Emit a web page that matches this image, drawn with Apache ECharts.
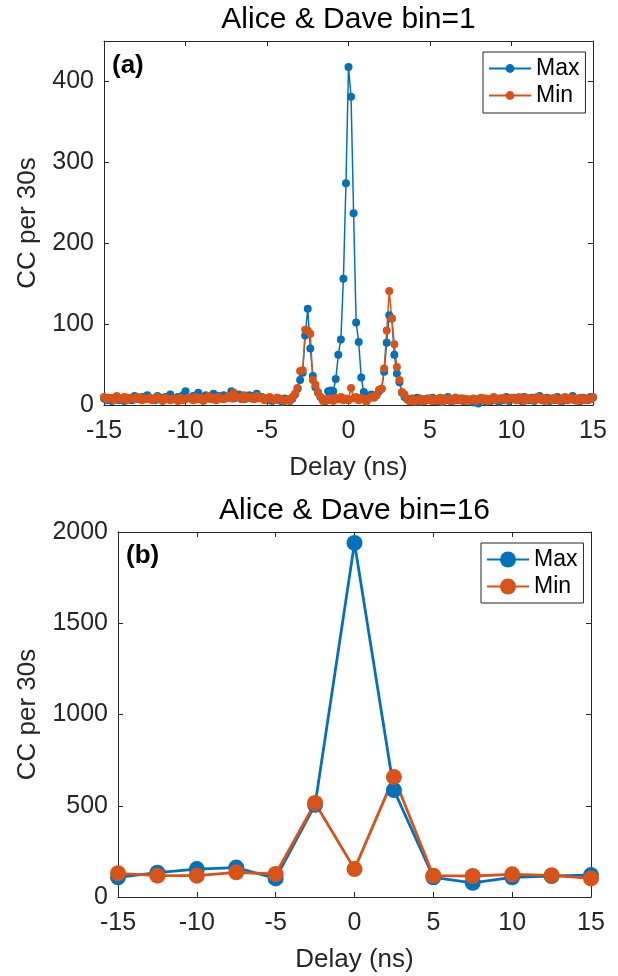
<!DOCTYPE html>
<html><head><meta charset="utf-8">
<script src="https://cdn.jsdelivr.net/npm/echarts@6/dist/echarts.min.js"></script>
<style>html,body{margin:0;padding:0;background:#fff}#c{width:618px;height:976px}</style>
</head><body><div id="c"></div>
<script>
// ---- data ----
const binWidthNs = 0.15625;           // bin=1 width (ns)
const delayStartNs = -15;
const maxBin1 = [
  8,6,9,5,7,10,6,8,5,9,7,6,11,8,7,10,
  9,12,7,8,6,11,9,7,10,8,13,9,7,10,8,12,
  17,9,8,11,7,15,10,9,12,8,10,14,9,11,8,12,
  10,9,17,8,11,13,9,7,10,12,8,11,14,9,10,8,
  6,8,5,7,9,6,4,8,7,5,8,13,20,31,40,86,
  119,70,36,22,15,10,7,5,17,18,17,32,62,81,156,274,
  418,381,237,102,78,34,16,12,10,13,11,12,17,20,41,77,
  111,107,62,39,28,15,10,7,5,8,6,9,4,7,5,8,
  6,9,5,7,4,8,6,10,5,7,9,6,8,5,7,6,
  5,3,7,2,6,8,4,7,5,9,6,4,8,6,10,5,
  7,9,6,8,5,10,7,6,9,5,8,11,6,7,9,5,
  8,6,10,7,5,9,6,8,11,6,7,5,9,8,6,10,
  9
];
const minBin1 = [
  10,7,8,9,6,11,8,7,10,6,9,8,7,10,9,6,
  8,7,9,6,8,10,7,5,9,7,6,8,7,5,9,6,
  7,9,8,6,10,7,9,5,8,11,7,9,6,10,8,7,
  9,11,8,15,10,9,7,12,8,10,9,7,11,8,9,6,
  8,10,7,6,9,8,6,5,7,6,10,14,21,42,43,93,
  92,88,31,25,16,10,5,7,6,8,5,9,7,10,6,8,
  6,21,8,10,6,9,7,4,8,10,9,12,19,20,45,92,
  141,107,75,47,31,16,13,8,5,7,4,6,8,5,7,6,
  8,5,7,6,9,4,7,8,6,5,9,7,6,8,5,7,
  6,8,5,7,9,6,8,5,7,10,6,8,7,9,6,8,
  9,7,6,10,8,5,9,7,8,6,10,7,9,5,8,7,
  6,9,7,5,8,10,6,9,7,8,5,9,7,6,8,7,
  10
];
const delayBin16 = [-15,-12.5,-10,-7.5,-5,-2.5,0,2.5,5,7.5,10,12.5,15];
const maxBin16 = [108,133,153,161,102,505,1940,586,108,78,108,115,120];
const minBin16 = [130,117,117,135,126,515,153,657,117,115,124,119,102];
const titles = ['Alice & Dave bin=1', 'Alice & Dave bin=16'];
const panelTags = ['(a)', '(b)'];
const seriesNames = ['Max', 'Min'];
const xLabel = 'Delay (ns)';
const yLabel = 'CC per 30s';

// ---- build ----
const delayBin1 = maxBin1.map((_, i) => delayStartNs + i * binWidthNs);
const zip = (xs, ys) => xs.map((x, i) => [x, ys[i]]);

const FONT = "'Liberation Sans', Arial, Helvetica, sans-serif";
const AX = '#262626';
const BLUE = '#0072BD', ORANGE = '#D95319';

function xAx(grid, top, named) {
  return {
    type: 'value', gridIndex: grid, position: top ? 'top' : 'bottom',
    min: -15, max: 15, interval: 5,
    axisLine: { show: true, onZero: false, lineStyle: { color: AX, width: 1 } },
    axisTick: { show: true, inside: true, length: 5, lineStyle: { color: AX } },
    axisLabel: { show: !top, fontSize: 25, margin: 14, color: AX, fontFamily: FONT },
    splitLine: { show: false },
    name: named ? xLabel : '', nameLocation: 'middle', nameGap: 50,
    nameTextStyle: { fontSize: 26, color: AX, fontFamily: FONT }
  };
}
function yAx(grid, right, max, interval, gap) {
  return {
    type: 'value', gridIndex: grid, position: right ? 'right' : 'left',
    min: 0, max: max, interval: interval,
    axisLine: { show: true, onZero: false, lineStyle: { color: AX, width: 1 } },
    axisTick: { show: true, inside: true, length: 5, lineStyle: { color: AX } },
    axisLabel: { show: !right, fontSize: 25, margin: 10, color: AX, fontFamily: FONT,
      formatter: v => (v % interval === 0 ? String(v) : '') },
    splitLine: { show: false },
    name: right ? '' : yLabel, nameLocation: 'middle', nameGap: gap,
    nameTextStyle: { fontSize: 26, color: AX, fontFamily: FONT }
  };
}
function ser(name, xi, yi, data, color, lw, sz) {
  return {
    name: name, type: 'line', xAxisIndex: xi, yAxisIndex: yi, data: data,
    symbol: 'circle', symbolSize: sz, showAllSymbol: true,
    lineStyle: { color: color, width: lw }, itemStyle: { color: color },
    animation: false, z: 3
  };
}

const option = {
  backgroundColor: '#fff',
  animation: false,
  title: [
    { text: titles[0], left: 348.5, top: 5, textAlign: 'center', padding: 0,
      textStyle: { fontSize: 30, fontWeight: 'normal', color: '#000', fontFamily: FONT } },
    { text: titles[1], left: 354.5, top: 496, textAlign: 'center', padding: 0,
      textStyle: { fontSize: 30, fontWeight: 'normal', color: '#000', fontFamily: FONT } },
    { text: panelTags[0], left: 112, top: 53, padding: 0,
      textStyle: { fontSize: 26, fontWeight: 'bold', color: '#000', fontFamily: FONT } },
    { text: panelTags[1], left: 126, top: 543, padding: 0,
      textStyle: { fontSize: 26, fontWeight: 'bold', color: '#000', fontFamily: FONT } }
  ],
  grid: [
    { left: 104, top: 41, width: 489, height: 364 },
    { left: 118, top: 532, width: 473, height: 365 }
  ],
  xAxis: [xAx(0, false, true), xAx(0, true, false), xAx(1, false, true), xAx(1, true, false)],
  yAxis: [yAx(0, false, 450, 100, 63), yAx(0, true, 450, 100, 0),
          yAx(1, false, 2000, 500, 77), yAx(1, true, 2000, 500, 0)],
  legend: [
    { data: seriesNames, orient: 'vertical', left: 483, top: 52, itemWidth: 42, itemHeight: 11,
      itemGap: 4, padding: [5, 6, 6, 5], borderColor: AX, borderWidth: 1, selectedMode: false,
      backgroundColor: '#fff',
      textStyle: { fontSize: 23, color: '#000', fontFamily: FONT } },
    { data: seriesNames.map(n => n + ' '), orient: 'vertical', left: 481, top: 543, itemWidth: 42, itemHeight: 20,
      itemGap: 4, padding: [5, 6, 5, 5], borderColor: AX, borderWidth: 1, selectedMode: false,
      backgroundColor: '#fff', formatter: n => n.trim(),
      textStyle: { fontSize: 23, color: '#000', fontFamily: FONT } }
  ],
  series: [
    ser(seriesNames[0], 0, 0, zip(delayBin1, maxBin1), BLUE, 1.5, 8),
    ser(seriesNames[1], 0, 0, zip(delayBin1, minBin1), ORANGE, 1.5, 8),
    ser(seriesNames[0] + ' ', 2, 2, zip(delayBin16, maxBin16), BLUE, 2.8, 16),
    ser(seriesNames[1] + ' ', 2, 2, zip(delayBin16, minBin16), ORANGE, 2.8, 16)
  ]
};
const chart = echarts.init(document.getElementById('c'), null, { renderer: 'canvas' });
chart.setOption(option);
</script></body></html>
